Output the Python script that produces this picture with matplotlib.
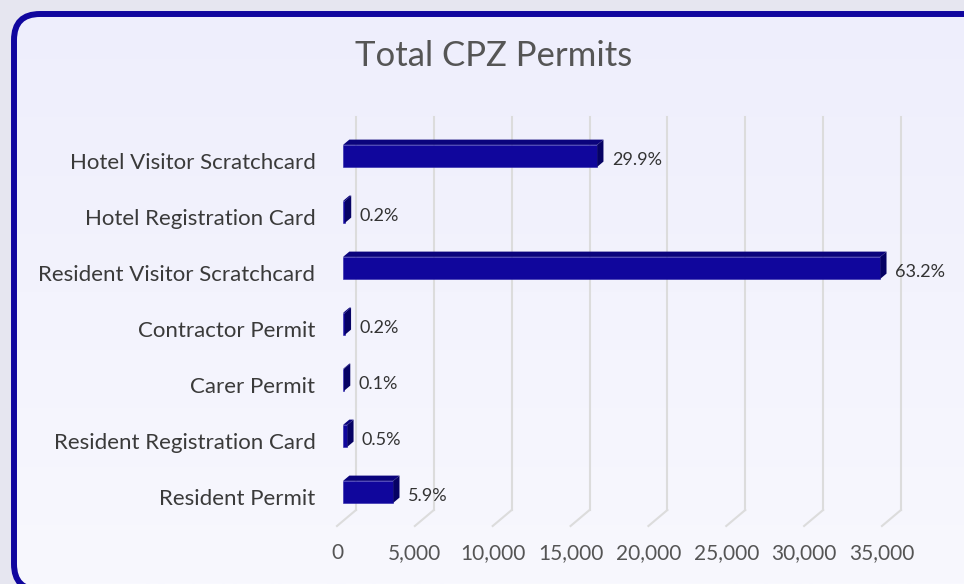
import matplotlib
matplotlib.use("Agg")
import numpy as np
import matplotlib.pyplot as plt
from matplotlib.patches import FancyBboxPatch, Polygon
from matplotlib.colors import LinearSegmentedColormap

plt.rcParams['font.family'] = ['Lato', 'DejaVu Sans']

categories = ['Hotel Visitor Scratchcard', 'Hotel Registration Card',
              'Resident Visitor Scratchcard', 'Contractor Permit', 'Carer Permit',
              'Resident Registration Card', 'Resident Permit']
permits = [16320, 120, 34500, 110, 60, 270, 3220]
ticks = [0, 5000, 10000, 15000, 20000, 25000, 30000, 35000]
tick_labels = ['0', '5,000', '10,000', '15,000', '20,000', '25,000', '30,000', '35,000']

W, H = 964, 584
fig = plt.figure(figsize=(W / 100, H / 100), dpi=100)
fig.patch.set_facecolor('#e6e6f0')

# background panel with rounded border
bg = fig.add_axes([0, 0, 1, 1])
bg.set_xlim(0, W)
bg.set_ylim(0, H)
bg.axis('off')
box = FancyBboxPatch((14, -6), 1040, 576, boxstyle='round,pad=0,rounding_size=26',
                     facecolor='none', edgecolor='#10069e', linewidth=4.3, zorder=3)
bg.add_patch(box)
grad = np.linspace(0, 1, 256).reshape(-1, 1)
cmap = LinearSegmentedColormap.from_list('panel', ['#f8f8fe', '#eeeefc'])
im = bg.imshow(grad, extent=[0, W, 0, H], origin='lower', cmap=cmap, aspect='auto', zorder=1)
im.set_clip_path(box)

fig.text(493.5 / W, 1 - 56 / H, 'Total CPZ Permits', ha='center', va='center',
         fontsize=25, color='#555555')

# main axes: front plane of the 3d box
K = 15.57 / 1000        # pixels per permit
xmax = 36000
y_top, y_bot = 133, 526
ax = fig.add_axes([337 / W, (H - y_bot) / H, xmax * K / W, (y_bot - y_top) / H])
ax.set_facecolor('none')
ax.set_xlim(0, xmax)
ybot = (y_bot - 161) / 56
ytop = (y_top - 161) / 56
ax.set_ylim(ybot, ytop)
for s in ax.spines.values():
    s.set_visible(False)

DX = 19 / K        # depth shift in data units
DY = -16 / 56

grid_c = '#dcdcdc'
for t in ticks:
    ax.plot([t + DX, t + DX], [ybot + DY, ytop + DY], color=grid_c, lw=1.5, clip_on=False, zorder=1)
    ax.plot([t, t + DX], [ybot, ybot + DY], color=grid_c, lw=1.5, clip_on=False, zorder=1)

rows = np.arange(len(categories))
f1, bd = 0.32, 0.33
h = 22 / 56
x0 = f1 * DX
front_c, top_c, side_c = '#10069c', '#0a037c', '#060264'
ax.barh(rows + f1 * DY, permits, left=x0, height=h, color=front_c,
        edgecolor='#2a22aa', linewidth=0.4, zorder=3)

total = sum(permits)
for r, v in zip(rows, permits):
    top = r + f1 * DY - h / 2
    bot = r + f1 * DY + h / 2
    ax.add_patch(Polygon([(x0, top), (x0 + v, top), (x0 + v + bd * DX, top + bd * DY),
                          (x0 + bd * DX, top + bd * DY)], closed=True, facecolor=top_c,
                         edgecolor='none', zorder=3, clip_on=False))
    ax.add_patch(Polygon([(x0 + v, top), (x0 + v, bot), (x0 + v + bd * DX, bot + bd * DY),
                          (x0 + v + bd * DX, top + bd * DY)], closed=True, facecolor=side_c,
                         edgecolor='none', zorder=3, clip_on=False))
    ax.annotate(f'{v / total * 100:.1f}%', xy=(x0 + v + bd * DX, r + f1 * DY),
                xytext=(6, -3), textcoords='offset points', va='center', ha='left',
                fontsize=13, color='#333333', annotation_clip=False)

ax.set_yticks(rows)
ax.set_yticklabels(categories, fontsize=16, color='#3a3a3a')
ax.tick_params(axis='y', length=0, pad=15.5)
ax.set_xticks(ticks)
ax.set_xticklabels(tick_labels, fontsize=15, color='#555555')
ax.tick_params(axis='x', length=0, pad=12.5)

fig.savefig('out.png', dpi=100)
